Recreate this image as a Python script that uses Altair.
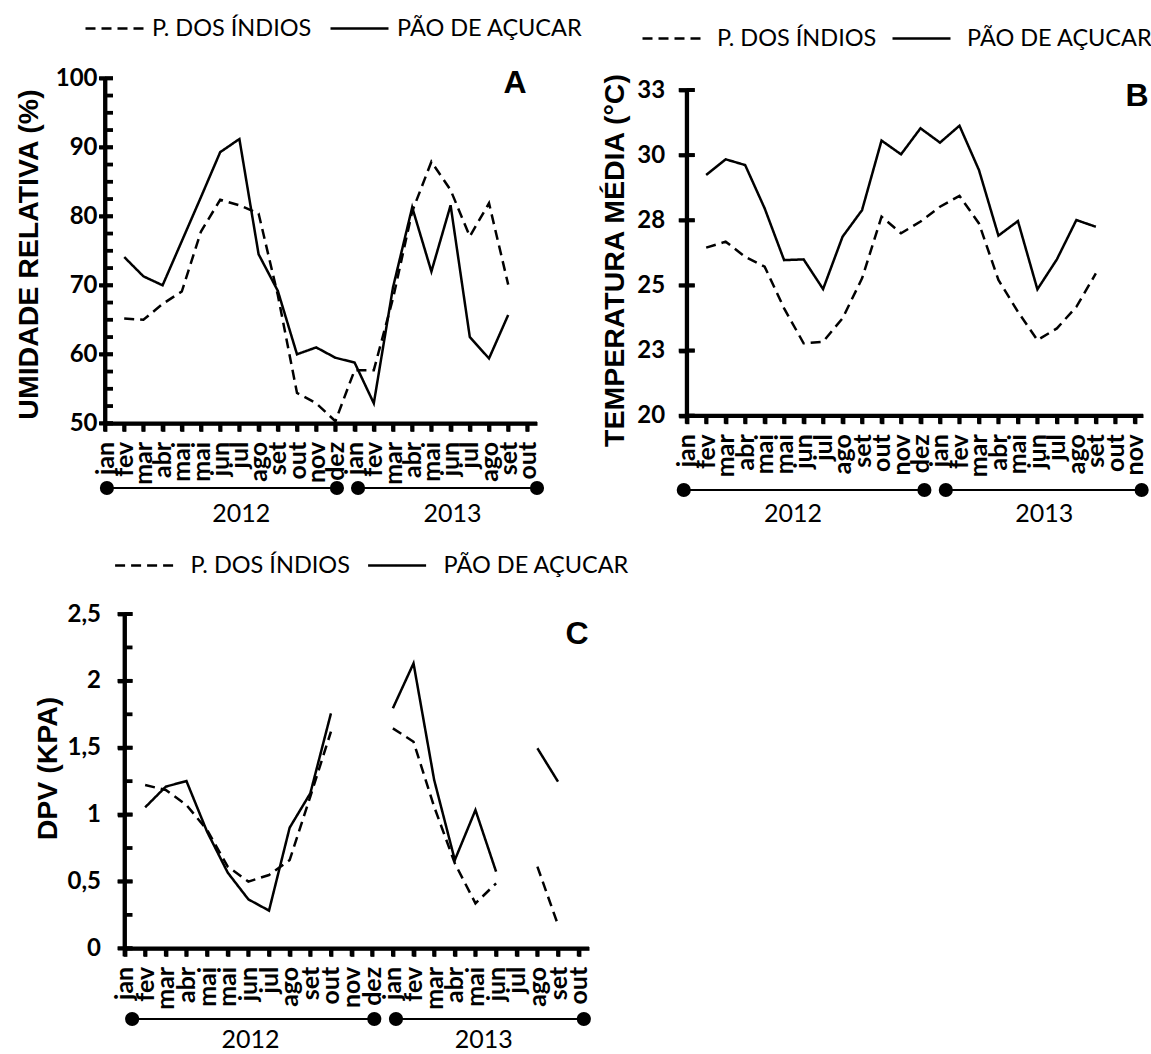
import json

import altair as alt
import pandas as pd

# Month labels along each horizontal axis (2012 followed by 2013)
MESES_A = ["jan", "fev", "mar", "abr", "mai", "mai", "jun", "jul", "ago", "set", "out", "nov", "dez",
           "jan", "fev", "mar", "abr", "mai", "jun", "jul", "ago", "set", "out"]
MESES_B = MESES_A + ["nov"]
MESES_C = list(MESES_A)

ESTACOES = ["P. DOS ÍNDIOS", "PÃO DE AÇUCAR"]
ANOS = ["2012", "2013"]
PRIMEIRA_POSICAO = 1  # first month slot that carries a value

# A - umidade relativa (%)
UR_INDIOS = [65.2, 65.0, 67.3, 69.1, 77.8, 82.4, 81.6, 80.4, 68.6, 54.4, 52.9,
             50.3, 57.7, 57.7, 68.1, 80.7, 87.9, 83.8, 77.1, 81.9, 70.1]
UR_ACUCAR = [74.1, 71.3, 70.0, 76.4, 82.8, 89.3, 91.2, 74.5, 69.2, 60.0, 61.0,
             59.5, 58.8, 52.9, 69.7, 81.3, 72.0, 81.6, 62.5, 59.4, 65.7]

# B - temperatura média (°C)
TM_INDIOS = [26.45, 26.68, 26.10, 25.72, 24.12, 22.78, 22.84, 23.74, 25.27, 27.64, 27.00,
             27.45, 28.02, 28.44, 27.38, 25.21, 23.99, 22.90, 23.35, 24.18, 25.46]
TM_ACUCAR = [29.24, 29.84, 29.62, 27.96, 25.97, 26.00, 24.86, 26.87, 27.89, 30.56, 30.03,
             31.03, 30.48, 31.13, 29.43, 26.91, 27.47, 24.85, 26.00, 27.51, 27.25]

# C - DPV (kPa); None marks months without measurements
DPV_INDIOS = [1.221, 1.184, 1.072, 0.885, 0.611, 0.499, 0.548, 0.660, 1.134, 1.620, None,
              None, 1.645, 1.545, 1.059, 0.636, 0.336, 0.486, None, 0.611, 0.174]
DPV_ACUCAR = [1.054, 1.209, 1.251, 0.872, 0.566, 0.366, 0.282, 0.902, 1.159, 1.757, None,
              None, 1.795, 2.131, 1.259, 0.660, 1.034, 0.573, None, 1.496, 1.246]

Y_TICKS_A = [50, 60, 70, 80, 90, 100]
Y_LABELS_A = ["50", "60", "70", "80", "90", "100"]
Y_TICKS_B = [20, 22.5, 25, 27.5, 30, 32.5]
Y_LABELS_B = ["20", "23", "25", "28", "30", "33"]
Y_TICKS_C = [0, 0.5, 1, 1.5, 2, 2.5]
Y_LABELS_C = ["0", "0,5", "1", "1,5", "2", "2,5"]

W, H = 1151, 1054
SANS = "Lato"
TITLE_FONT = "Liberation Sans"
AXIS_W = 3.8
LINE_W = 2.5

LAYOUT_A = dict(
    left=105, right=537, top=78.3, bottom=423.3, xmax=22.5, ymin=50, ymax=100,
    inner_step=2.5, tick_out=6, label_pad=2,
    title="UMIDADE RELATIVA (%)", title_x=-68, title_y=254,
    legend_x=84, legend_y=-2, legend_gap=7, legend_col=13,
    timeline_y=488, timeline=[0.1, 12.08, 13.18, 22.5], year_pos=[7.1, 18.1], year_y=514,
    letter="A", letter_x=515, letter_y=83,
)
LAYOUT_B = dict(
    left=686.7, right=1143, top=90, bottom=415.7, xmax=23.42, ymin=20, ymax=32.5,
    inner_step=2.5, tick_out=8, label_pad=14,
    title="TEMPERATURA MÉDIA (°C)", title_x=-63.7, title_y=260,
    legend_x=641, legend_y=8, legend_gap=15, legend_col=10,
    timeline_y=490, timeline=[-0.15, 12.2, 13.3, 23.35], year_pos=[5.45, 18.35], year_y=514,
    letter="B", letter_x=1137, letter_y=96,
)
LAYOUT_C = dict(
    left=124.5, right=589, top=614, bottom=948.3, xmax=22.5, ymin=0, ymax=2.5,
    inner_step=0.25, tick_out=7, label_pad=17,
    title="DPV (KPA)", title_x=-68.5, title_y=768,
    legend_x=113.6, legend_y=535, legend_gap=16, legend_col=12,
    timeline_y=1019, timeline=[0.37, 12.1, 13.15, 22.25], year_pos=[6.1, 17.4], year_y=1040,
    letter="C", letter_x=577, letter_y=634,
)


def long_frame(indios, acucar):
    """Long table of both stations; a new segment starts after each gap."""
    rows = []
    for name, values in zip(ESTACOES, [indios, acucar]):
        seg = 0
        for i, v in enumerate(values):
            if v is None:
                seg += 1
                continue
            rows.append({"pos": PRIMEIRA_POSICAO + i, "val": v, "serie": name, "seg": f"{name}-{seg}"})
    return pd.DataFrame(rows)


def painel(df, meses, y_ticks, y_labels, L):
    x_scale = alt.Scale(domain=[0, L["xmax"]], range=[L["left"], L["right"]], nice=False, zero=False)
    y_scale = alt.Scale(domain=[L["ymin"], L["ymax"]], range=[L["bottom"], L["top"]], nice=False, zero=False)
    step = y_ticks[1] - y_ticks[0]

    x_axis = alt.Axis(
        orient="bottom", offset=L["bottom"] - H, title=None, grid=False,
        values=list(range(len(meses))), labelExpr=f"{json.dumps(meses)}[datum.value]",
        labelAngle=270, labelAlign="right", labelBaseline="middle",
        labelFont=SANS, labelFontWeight="bold", labelFontSize=25, labelColor="black",
        labelPadding=10, labelOverlap=False, labelBound=False, labelFlush=False,
        tickSize=8, tickWidth=AXIS_W, tickColor="black", domainWidth=AXIS_W, domainColor="black",
    )
    y_axis = alt.Axis(
        orient="left", offset=-L["left"], grid=False, values=y_ticks,
        labelExpr=f"{json.dumps(y_labels)}[round((datum.value - ({y_ticks[0]})) / {step})]",
        labelFont=SANS, labelFontWeight="bold", labelFontSize=24, labelColor="black",
        labelPadding=L["label_pad"], labelOverlap=False, labelBound=False, labelFlush=False,
        tickSize=L["tick_out"], tickWidth=AXIS_W, tickColor="black", domainWidth=AXIS_W, domainColor="black",
        title=L["title"], titleFont=TITLE_FONT, titleFontWeight="bold", titleFontSize=28.5,
        titleColor="black", titleAngle=270, titleAlign="center", titleBaseline="alphabetic",
        titleX=L["title_x"], titleY=L["title_y"],
    )

    def x_enc(field="pos"):
        return alt.X(f"{field}:Q", scale=x_scale, axis=x_axis)

    def y_enc(field="val"):
        return alt.Y(f"{field}:Q", scale=y_scale, axis=y_axis)

    linhas = alt.Chart(df).mark_line(color="black", strokeWidth=LINE_W).encode(
        x=x_enc(),
        y=y_enc(),
        strokeDash=alt.StrokeDash(
            "serie:N",
            scale=alt.Scale(domain=ESTACOES, range=[[10, 6], [1, 0]]),
            legend=alt.Legend(
                title=None, orient="none", legendX=L["legend_x"], legendY=L["legend_y"],
                direction="horizontal", symbolType="stroke", symbolSize=3364,
                symbolStrokeWidth=LINE_W, symbolStrokeColor="black",
                labelFont=SANS, labelFontSize=23.5, labelColor="black", labelLimit=400,
                labelOffset=L["legend_gap"], columnPadding=L["legend_col"], padding=0,
            ),
        ),
        detail="seg:N",
    )

    # heavy axis lines
    eixo_y = alt.Chart(pd.DataFrame({"val": [L["ymin"]], "val2": [L["ymax"]]})).mark_rule(
        color="black", strokeWidth=AXIS_W
    ).encode(y=y_enc(), y2="val2:Q", x=alt.value(L["left"]))
    eixo_x = alt.Chart(pd.DataFrame({"pos": [0], "pos2": [L["xmax"]]})).mark_rule(
        color="black", strokeWidth=AXIS_W
    ).encode(x=x_enc(), x2="pos2:Q", y=alt.value(L["bottom"]))

    # month ticks below the horizontal axis
    marcas_x = alt.Chart(pd.DataFrame({"pos": list(range(len(meses)))})).mark_rule(
        color="black", strokeWidth=AXIS_W
    ).encode(x=x_enc(), y=alt.value(L["bottom"]), y2=alt.value(L["bottom"] + 8))

    # labelled ticks cross the vertical axis
    marcas_y = alt.Chart(pd.DataFrame({"val": y_ticks})).mark_rule(
        color="black", strokeWidth=AXIS_W
    ).encode(y=y_enc(), x=alt.value(L["left"] - L["tick_out"]), x2=alt.value(L["left"] + 8))

    # minor ticks on the inner side of the vertical axis
    n_inner = int(round((L["ymax"] - L["ymin"]) / L["inner_step"])) + 1
    inner = pd.DataFrame({"val": [L["ymin"] + k * L["inner_step"] for k in range(n_inner)]})
    marcas = alt.Chart(inner).mark_rule(color="black", strokeWidth=AXIS_W).encode(
        y=y_enc(),
        x=alt.value(L["left"]),
        x2=alt.value(L["left"] + 8),
    )

    # year timeline below the month labels
    t = L["timeline"]
    linha_tempo = pd.DataFrame({"pos": t, "ano": [ANOS[0], ANOS[0], ANOS[1], ANOS[1]]})
    regua = alt.Chart(linha_tempo).mark_line(color="black", strokeWidth=2).encode(
        x=x_enc(), y=alt.value(L["timeline_y"]), detail="ano:N"
    )
    pontos = alt.Chart(linha_tempo).mark_circle(color="black", opacity=1, size=200).encode(
        x=x_enc(), y=alt.value(L["timeline_y"])
    )
    anos = alt.Chart(pd.DataFrame({"pos": L["year_pos"], "ano": ANOS})).mark_text(
        font=SANS, fontSize=25, color="black", align="center", baseline="middle"
    ).encode(x=x_enc(), y=alt.value(L["year_y"]), text="ano:N")

    letra = alt.Chart(pd.DataFrame({"letra": [L["letter"]]})).mark_text(
        font=TITLE_FONT, fontWeight="bold", fontSize=32, color="black", align="center", baseline="middle"
    ).encode(x=alt.value(L["letter_x"]), y=alt.value(L["letter_y"]), text="letra:N")

    return alt.layer(linhas, eixo_y, eixo_x, marcas_x, marcas_y, marcas, regua, pontos, anos, letra)


painel_a = painel(long_frame(UR_INDIOS, UR_ACUCAR), MESES_A, Y_TICKS_A, Y_LABELS_A, LAYOUT_A)
painel_b = painel(long_frame(TM_INDIOS, TM_ACUCAR), MESES_B, Y_TICKS_B, Y_LABELS_B, LAYOUT_B)
painel_c = painel(long_frame(DPV_INDIOS, DPV_ACUCAR), MESES_C, Y_TICKS_C, Y_LABELS_C, LAYOUT_C)

chart = (
    alt.layer(painel_a, painel_b, painel_c)
    .resolve_scale(x="independent", y="independent", strokeDash="independent")
    .resolve_axis(x="independent", y="independent")
    .resolve_legend(strokeDash="independent")
    .properties(width=W, height=H, padding=0, background="white",
                autosize=alt.AutoSizeParams(type="none"))
    .configure_view(stroke=None)
    .configure_axis(domainWidth=AXIS_W, tickWidth=AXIS_W, domainColor="black", tickColor="black")
)

chart.save("out.html", embed_options={"renderer": "svg", "actions": False})
